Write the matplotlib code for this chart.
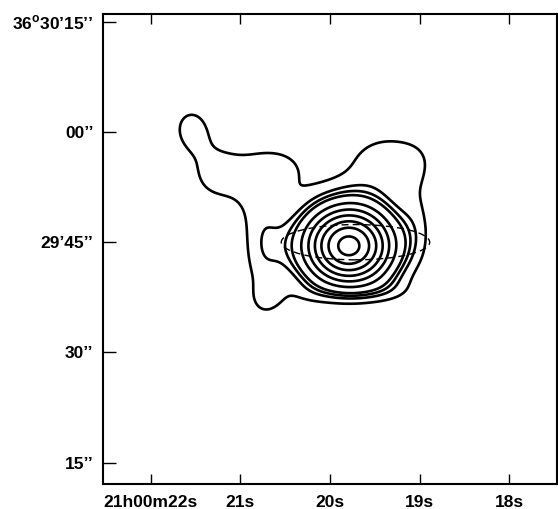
import numpy as np
import matplotlib.pyplot as plt
from matplotlib.patches import Ellipse

plt.rcParams['font.family'] = ['Liberation Sans', 'DejaVu Sans']
plt.rcParams['mathtext.fontset'] = 'custom'
plt.rcParams['mathtext.rm'] = 'Liberation Sans:bold'

# peak of the emission: RA seconds after 21h00m, Dec arcsec after 36d29m
peak_ra = 19.79
peak_dec = 44.5
arcsec_per_sec = 12.06   # 15 * cos(dec)

# emission components, offsets from peak in arcsec (+x = west, +y = north)
#            core   left   band   lobe   bump   NE    right  tipSW  SW    SE    trough
comp_dx  = [0.0, -11.8, -17.5, -21.3,  -8.6,  5.5,  9.5, -11.0, -6.5,  6.5,   1.0]
comp_dy  = [0.0,   0.0,   9.8,  16.3,  10.8, 12.0,  4.0,  -7.5, -7.2, -6.5, -10.5]
comp_amp = [9.4,   1.7,   1.8,   1.6,  1.25,  1.8,  0.8,   0.8,  0.5,  0.6, -0.55]
comp_sx  = [4.8,   2.4,   4.0,   2.2,   3.2,  5.5,  1.8,   1.8,  2.5,  3.0,   6.0]
comp_sy  = [4.3,   7.0,   4.0,   2.6,   3.0,  3.5,  5.0,   1.8,  1.6,  1.5,   2.5]

levels = [1.5, 2.2, 2.6, 3, 4, 5, 6, 7, 8, 9]

# dashed ellipse (optical outline), offset in arcsec and full axes
ell_dx, ell_dy = 0.9, 0.5
ell_major, ell_minor = 20.0, 4.8

ra_ticks = [22, 21, 20, 19, 18]
ra_labels = ['21h00m22s', '21s', '20s', '19s', '18s']
dec_ticks = [75, 60, 45, 30, 15]
dec_labels = ['36$^{\\mathrm{o}}$30\u201915\u2019\u2019', '00\u2019\u2019',
              '29\u201945\u2019\u2019', '30\u2019\u2019', '15\u2019\u2019']

xlim = (22.536, 17.464)
ylim = (12.1, 76.05)

fig = plt.figure(figsize=(5.58, 5.09), dpi=100)
ax = fig.add_axes([0.1846, 0.0491, 0.8136, 0.9234])

ra = np.linspace(xlim[1], xlim[0], 700)
dec = np.linspace(ylim[0], ylim[1], 700)
RA, DEC = np.meshgrid(ra, dec)
X = (peak_ra - RA) * arcsec_per_sec
Y = DEC - peak_dec
Z = np.zeros_like(X)
for dx, dy, a, sx, sy in zip(comp_dx, comp_dy, comp_amp, comp_sx, comp_sy):
    Z += a * np.exp(-0.5 * ((X - dx) / sx) ** 2 - 0.5 * ((Y - dy) / sy) ** 2)

ax.contour(RA, DEC, Z, levels=levels, colors='black', linewidths=1.9)

ell = Ellipse((peak_ra - ell_dx / arcsec_per_sec, peak_dec + ell_dy),
              ell_major / arcsec_per_sec, ell_minor,
              fill=False, ls=(0, (5, 3)), lw=1.0, color='black')
ax.add_patch(ell)

ax.set_xlim(xlim)
ax.set_ylim(ylim)
ax.set_xticks(ra_ticks)
ax.set_xticklabels(ra_labels)
ax.set_yticks(dec_ticks)
ax.set_yticklabels(dec_labels)
ax.tick_params(direction='in', top=True, right=False, width=1.0,
               labelsize=12.5, colors='black')
ax.tick_params(axis='y', length=9, pad=7)
ax.tick_params(axis='x', length=7, pad=8)
for lab in ax.get_xticklabels() + ax.get_yticklabels():
    lab.set_fontweight('bold')
for sp in ax.spines.values():
    sp.set_linewidth(1.5)

fig.savefig('out.png', dpi=100)
